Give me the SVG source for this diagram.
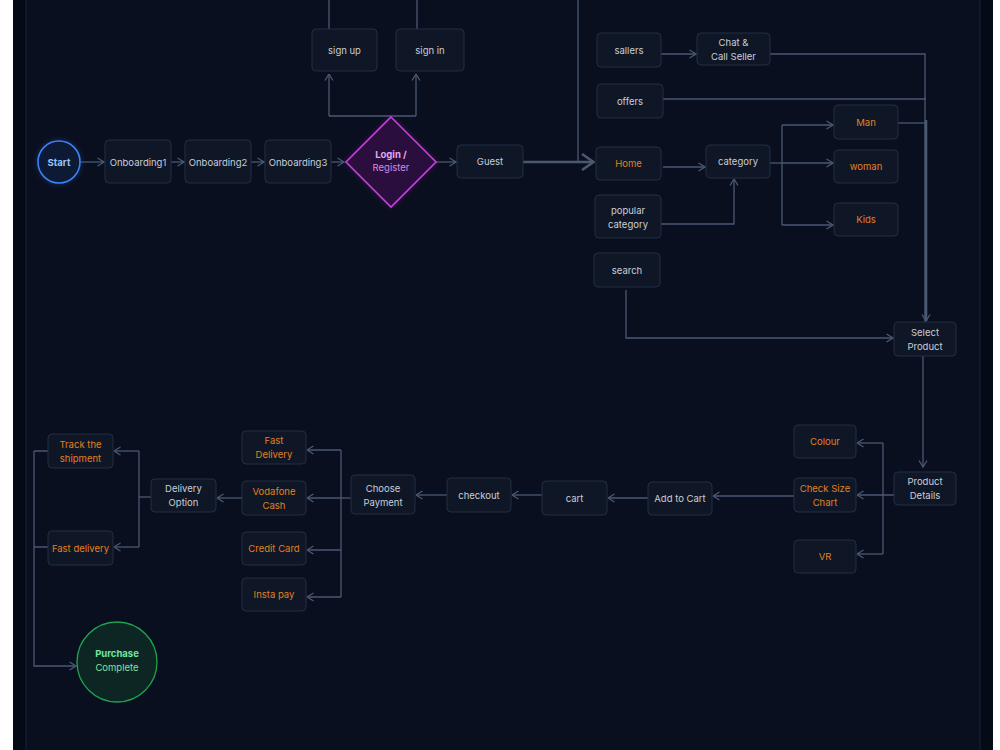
<svg xmlns="http://www.w3.org/2000/svg" width="1000" height="750" viewBox="0 0 1000 750">
<defs>
<style>
.n rect{fill:#0f1727;stroke:#232e42;stroke-width:1}
.t{font-family:Inter,"Noto Sans",sans-serif;font-size:9.5px;fill:#c9ced8;text-anchor:middle}
.o{fill:#e0801f}
.c{fill:none;stroke:#4a5870;stroke-width:1.3}
.th{stroke-width:2.6}
</style>
<marker id="a" viewBox="0 0 8 10" refX="7.5" refY="5" markerWidth="8" markerHeight="10" markerUnits="userSpaceOnUse" orient="auto"><path d="M1,1 L7.5,5 L1,9" fill="none" stroke="#4a5870" stroke-width="1.3"/></marker>
<marker id="ab" viewBox="0 0 14 18" refX="13" refY="9" markerWidth="14" markerHeight="18" markerUnits="userSpaceOnUse" orient="auto"><path d="M1,1 L12.5,9 L1,17" fill="none" stroke="#4a5870" stroke-width="2.6"/></marker>
<filter id="g" x="-50%" y="-50%" width="200%" height="200%"><feGaussianBlur stdDeviation="3"/></filter>
</defs>
<rect width="1000" height="750" fill="#ffffff"/>
<rect x="13" y="0" width="980" height="750" fill="#050a17"/>
<rect x="26" y="-1" width="954" height="752" fill="#0a0f20" stroke="#1a2233" stroke-width="1"/>

<g id="connectors">
<path class="c" d="M81,162 H104" marker-end="url(#a)"/>
<path class="c" d="M171,162 H184" marker-end="url(#a)"/>
<path class="c" d="M251,162 H264" marker-end="url(#a)"/>
<path class="c" d="M331,162 H344" marker-end="url(#a)"/>
<path class="c" d="M436,162 H456" marker-end="url(#a)"/>
<path class="c" d="M329,116 H416"/>
<path class="c" d="M329,116 V74" marker-end="url(#a)"/>
<path class="c" d="M416,116 V74" marker-end="url(#a)"/>
<path class="c" d="M329,0 V29"/>
<path class="c" d="M417,0 V29"/>
<path class="c" d="M578,0 V162"/>
<path class="c th" d="M523,162 H594" marker-end="url(#ab)"/>
<path class="c" d="M661,54 H696" marker-end="url(#a)"/>
<path class="c" d="M770,54 H925 V322"/>
<path class="c" d="M663,99 H926"/>
<path class="c" d="M898,123 H927"/>
<path class="c th" d="M926,120 V321" marker-end="url(#a)"/>
<path class="c" d="M663,167 H705" marker-end="url(#a)"/>
<path class="c" d="M661,224 H734 V179" marker-end="url(#a)"/>
<path class="c" d="M770,163 H782"/>
<path class="c" d="M782,125 V225"/>
<path class="c" d="M782,125 H833" marker-end="url(#a)"/>
<path class="c" d="M782,163 H833" marker-end="url(#a)"/>
<path class="c" d="M782,225 H833" marker-end="url(#a)"/>
<path class="c" d="M626,290 V338 H893" marker-end="url(#a)"/>
<path class="c" d="M923,356 V467" marker-end="url(#a)"/>
<path class="c" d="M894,495 H857" marker-end="url(#a)"/>
<path class="c" d="M883,443 V554"/>
<path class="c" d="M883,443 H857" marker-end="url(#a)"/>
<path class="c" d="M883,554 H857" marker-end="url(#a)"/>
<path class="c" d="M794,496 H713" marker-end="url(#a)"/>
<path class="c" d="M648,498 H608" marker-end="url(#a)"/>
<path class="c" d="M542,495 H512" marker-end="url(#a)"/>
<path class="c" d="M447,495 H416" marker-end="url(#a)"/>
<path class="c" d="M351,498 H341"/>
<path class="c" d="M341,450 V597"/>
<path class="c" d="M341,450 H307" marker-end="url(#a)"/>
<path class="c" d="M341,498 H307" marker-end="url(#a)"/>
<path class="c" d="M341,550 H307" marker-end="url(#a)"/>
<path class="c" d="M341,597 H307" marker-end="url(#a)"/>
<path class="c" d="M242,498 H217" marker-end="url(#a)"/>
<path class="c" d="M151,497 H139"/>
<path class="c" d="M139,451 V547"/>
<path class="c" d="M139,451 H114" marker-end="url(#a)"/>
<path class="c" d="M139,547 H114" marker-end="url(#a)"/>
<path class="c" d="M48,451 H34 M48,547 H34"/>
<path class="c" d="M34,451 V666 H76" marker-end="url(#a)"/>
</g>

<g id="start">
<circle cx="59" cy="162" r="21" fill="#3b82f6" opacity="0.35" filter="url(#g)"/>
<circle cx="59" cy="162" r="21" fill="#0c1a36" stroke="#3b82f6" stroke-width="1.6"/>
<text class="t" x="59" y="165.5" style="fill:#93c5fd;font-weight:700">Start</text>
</g>
<g id="onboarding1" class="n"><rect x="105" y="140" width="66" height="43" rx="4"/><text class="t" x="138" y="165.5">Onboarding1</text></g>
<g id="onboarding2" class="n"><rect x="185" y="140" width="66" height="43" rx="4"/><text class="t" x="218" y="165.5">Onboarding2</text></g>
<g id="onboarding3" class="n"><rect x="265" y="140" width="66" height="43" rx="4"/><text class="t" x="298" y="165.5">Onboarding3</text></g>
<g id="login">
<path d="M391,117 L436,162 L391,207 L346,162 Z" fill="#c026d3" opacity="0.3" filter="url(#g)"/>
<path d="M391,117 L436,162 L391,207 L346,162 Z" fill="#2a0f3e" stroke="#c63fdc" stroke-width="1.6"/>
<text class="t" x="391" y="158" style="fill:#e2a6f0;font-weight:700">Login /</text>
<text class="t" x="391" y="171" style="fill:#d38ae6">Register</text>
</g>
<g id="signup" class="n"><rect x="312" y="29" width="65" height="42" rx="4"/><text class="t" x="344.5" y="53.5">sign up</text></g>
<g id="signin" class="n"><rect x="396" y="29" width="68" height="42" rx="4"/><text class="t" x="430" y="53.5">sign in</text></g>
<g id="guest" class="n"><rect x="457" y="145" width="66" height="33" rx="4"/><text class="t" x="490" y="165">Guest</text></g>
<g id="sallers" class="n"><rect x="597" y="33" width="64" height="34" rx="4"/><text class="t" x="629" y="53.5">sallers</text></g>
<g id="chat" class="n"><rect x="697" y="33" width="73" height="32" rx="4"/><text class="t" x="733.5" y="46">Chat &amp;</text><text class="t" x="733.5" y="60">Call Seller</text></g>
<g id="offers" class="n"><rect x="597" y="84" width="66" height="34" rx="4"/><text class="t" x="630" y="104.5">offers</text></g>
<g id="home" class="n"><rect x="596" y="147" width="65" height="33" rx="4"/><text class="t o" x="628.5" y="167">Home</text></g>
<g id="popular" class="n"><rect x="595" y="195" width="66" height="43" rx="4"/><text class="t" x="628" y="214">popular</text><text class="t" x="628" y="228">category</text></g>
<g id="category" class="n"><rect x="706" y="145" width="64" height="33" rx="4"/><text class="t" x="738" y="165">category</text></g>
<g id="man" class="n"><rect x="834" y="105" width="64" height="34" rx="4"/><text class="t o" x="866" y="125.5">Man</text></g>
<g id="woman" class="n"><rect x="834" y="150" width="64" height="33" rx="4"/><text class="t o" x="866" y="170">woman</text></g>
<g id="kids" class="n"><rect x="834" y="203" width="64" height="33" rx="4"/><text class="t o" x="866" y="223">Kids</text></g>
<g id="search" class="n"><rect x="594" y="253" width="66" height="34" rx="4"/><text class="t" x="627" y="273.5">search</text></g>
<g id="select" class="n"><rect x="894" y="322" width="62" height="34" rx="4"/><text class="t" x="925" y="336">Select</text><text class="t" x="925" y="350">Product</text></g>
<g id="details" class="n"><rect x="894" y="472" width="62" height="33" rx="4"/><text class="t" x="925" y="485">Product</text><text class="t" x="925" y="499">Details</text></g>
<g id="colour" class="n"><rect x="794" y="425" width="62" height="33" rx="4"/><text class="t o" x="825" y="445">Colour</text></g>
<g id="size" class="n"><rect x="794" y="478" width="62" height="34" rx="4"/><text class="t o" x="825" y="492">Check Size</text><text class="t o" x="825" y="506">Chart</text></g>
<g id="vr" class="n"><rect x="794" y="540" width="62" height="33" rx="4"/><text class="t o" x="825" y="560">VR</text></g>
<g id="addcart" class="n"><rect x="648" y="482" width="64" height="33" rx="4"/><text class="t" x="680" y="502">Add to Cart</text></g>
<g id="cart" class="n"><rect x="542" y="481" width="65" height="34" rx="4"/><text class="t" x="574.5" y="501.5">cart</text></g>
<g id="checkout" class="n"><rect x="447" y="478" width="64" height="34" rx="4"/><text class="t" x="479" y="498.5">checkout</text></g>
<g id="payment" class="n"><rect x="351" y="475" width="64" height="39" rx="4"/><text class="t" x="383" y="491.5">Choose</text><text class="t" x="383" y="505.5">Payment</text></g>
<g id="fastdel" class="n"><rect x="242" y="431" width="64" height="33" rx="4"/><text class="t o" x="274" y="444">Fast</text><text class="t o" x="274" y="458">Delivery</text></g>
<g id="vodafone" class="n"><rect x="242" y="481" width="64" height="34" rx="4"/><text class="t o" x="274" y="495">Vodafone</text><text class="t o" x="274" y="509">Cash</text></g>
<g id="credit" class="n"><rect x="242" y="532" width="64" height="33" rx="4"/><text class="t o" x="274" y="552">Credit Card</text></g>
<g id="insta" class="n"><rect x="242" y="578" width="64" height="33" rx="4"/><text class="t o" x="274" y="598">Insta pay</text></g>
<g id="delivery" class="n"><rect x="151" y="479" width="65" height="33" rx="4"/><text class="t" x="183.5" y="492">Delivery</text><text class="t" x="183.5" y="506">Option</text></g>
<g id="track" class="n"><rect x="48" y="434" width="65" height="34" rx="4"/><text class="t o" x="80.5" y="448">Track the</text><text class="t o" x="80.5" y="462">shipment</text></g>
<g id="fastdelivery" class="n"><rect x="48" y="531" width="65" height="34" rx="4"/><text class="t o" x="80.5" y="551.5">Fast delivery</text></g>
<g id="complete">
<circle cx="117" cy="662" r="40" fill="#0d2523" stroke="#1fa34f" stroke-width="1.3"/>
<text class="t" x="117" y="657" style="fill:#6ee7a0;font-weight:700">Purchase</text>
<text class="t" x="117" y="671" style="fill:#86e0a8">Complete</text>
</g>
</svg>
